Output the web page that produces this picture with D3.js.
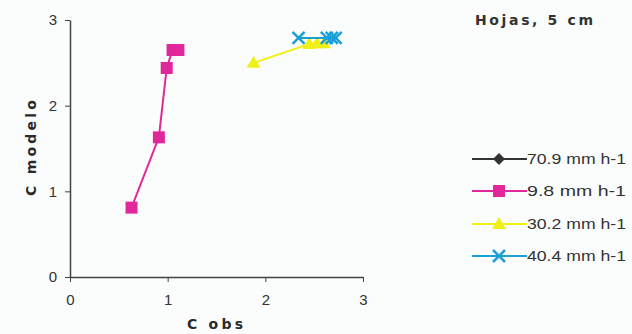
<!DOCTYPE html>
<html><head><meta charset="utf-8">
<script src="https://cdn.jsdelivr.net/npm/d3@7"></script>
<style>body{margin:0;background:#fbfdfd;}svg{display:block;}</style>
</head><body><svg id="c" width="632" height="334"></svg>
<script>
const title = "Hojas, 5 cm";
const xLabel = "C obs";
const yLabel = "C modelo";
const xTicks = [0, 1, 2, 3];
const yTicks = [0, 1, 2, 3];
const seriesNames = ["70.9 mm h-1", "9.8 mm h-1", "30.2 mm h-1", "40.4 mm h-1"];
const seriesColors = ["#333333", "#e0289a", "#f0f018", "#1a9fd8"];
const seriesMarkers = ["diamond", "square", "triangle", "x"];
// series values: [C obs, C modelo]
const s709x = [];
const s709y = [];
const s98x = [0.63, 0.91, 0.99, 1.05, 1.11];
const s98y = [0.81, 1.63, 2.44, 2.65, 2.65];
const s302x = [1.88, 2.45, 2.53, 2.60];
const s302y = [2.50, 2.72, 2.73, 2.73];
const s404x = [2.34, 2.63, 2.68, 2.72];
const s404y = [2.79, 2.79, 2.79, 2.79];
const seriesX = [s709x, s98x, s302x, s404x];
const seriesY = [s709y, s98y, s302y, s404y];

const svg = d3.select("#c");
const x = d3.scaleLinear().domain([0, 3]).range([70, 363]);
const y = d3.scaleLinear().domain([0, 3]).range([277, 20]);
const axisColor = "#3c463c";
const font = "Liberation Sans, Arial, sans-serif";

// axes
const gx = svg.append("g").attr("transform", "translate(0,277)")
  .call(d3.axisBottom(x).tickValues(xTicks).tickFormat(d3.format("d")).tickSize(5).tickSizeOuter(0).tickPadding(12));
const gy = svg.append("g").attr("transform", "translate(70,0)")
  .call(d3.axisLeft(y).tickValues(yTicks).tickFormat(d3.format("d")).tickSize(5).tickSizeOuter(0).tickPadding(8));
[gx, gy].forEach(g => {
  g.select(".domain").attr("stroke", axisColor).attr("stroke-width", 1.5);
  g.selectAll(".tick line").attr("stroke", axisColor).attr("stroke-width", 1);
  g.selectAll(".tick text").attr("fill", "#333").style("font-family", font).style("font-size", "15px");
});

// axis titles
svg.append("text").attr("x", 215).attr("y", 329).attr("text-anchor", "middle")
  .attr("font-family", "DejaVu Sans, sans-serif").attr("font-weight", "bold").attr("font-size", 14)
  .attr("fill", "#2a2a2a").attr("textLength", 56).attr("lengthAdjust", "spacing").text(xLabel);
svg.append("text").attr("transform", "translate(36,148) rotate(-90)").attr("text-anchor", "middle")
  .attr("font-family", "DejaVu Sans, sans-serif").attr("font-weight", "bold").attr("font-size", 14)
  .attr("fill", "#2a2a2a").attr("textLength", 96).attr("lengthAdjust", "spacing").text(yLabel);

// title
svg.append("text").attr("x", 475).attr("y", 25)
  .attr("font-family", "DejaVu Sans, sans-serif").attr("font-weight", "bold").attr("font-size", 14)
  .attr("fill", "#333").attr("textLength", 118).attr("lengthAdjust", "spacing").text(title);

function drawMarker(g, type, color, cx, cy) {
  if (type === "square") {
    g.append("rect").attr("x", cx - 6).attr("y", cy - 6).attr("width", 12).attr("height", 12).attr("fill", color);
  } else if (type === "diamond") {
    g.append("path").attr("d", `M${cx},${cy-6}L${cx+6},${cy}L${cx},${cy+6}L${cx-6},${cy}Z`).attr("fill", color);
  } else if (type === "triangle") {
    g.append("path").attr("d", `M${cx},${cy-7}L${cx+7},${cy+5}L${cx-7},${cy+5}Z`).attr("fill", color);
  } else if (type === "x") {
    g.append("path").attr("d", `M${cx-6},${cy-6}L${cx+6},${cy+6}M${cx-6},${cy+6}L${cx+6},${cy-6}`)
      .attr("stroke", color).attr("stroke-width", 2.5).attr("fill", "none");
  }
}

const line = d3.line().x(d => x(d[0])).y(d => y(d[1]));
seriesNames.forEach((name, i) => {
  const pts = seriesX[i].map((v, j) => [v, seriesY[i][j]]);
  const g = svg.append("g");
  if (pts.length) {
    g.append("path").datum(pts).attr("d", line).attr("fill", "none")
      .attr("stroke", seriesColors[i]).attr("stroke-width", 2);
    pts.forEach(p => drawMarker(g, seriesMarkers[i], seriesColors[i], x(p[0]), y(p[1])));
  }
});

// legend
const legY = [159, 191, 224, 256];
seriesNames.forEach((name, i) => {
  const g = svg.append("g");
  g.append("line").attr("x1", 472).attr("x2", 527).attr("y1", legY[i]).attr("y2", legY[i])
    .attr("stroke", seriesColors[i]).attr("stroke-width", 2);
  drawMarker(g, seriesMarkers[i], seriesColors[i], 499, legY[i]);
  g.append("text").attr("x", 527).attr("y", legY[i] + 5)
    .attr("font-family", font).attr("font-size", 14).attr("fill", "#333")
    .attr("textLength", 99).attr("lengthAdjust", "spacingAndGlyphs").text(name);
});
</script></body></html>
